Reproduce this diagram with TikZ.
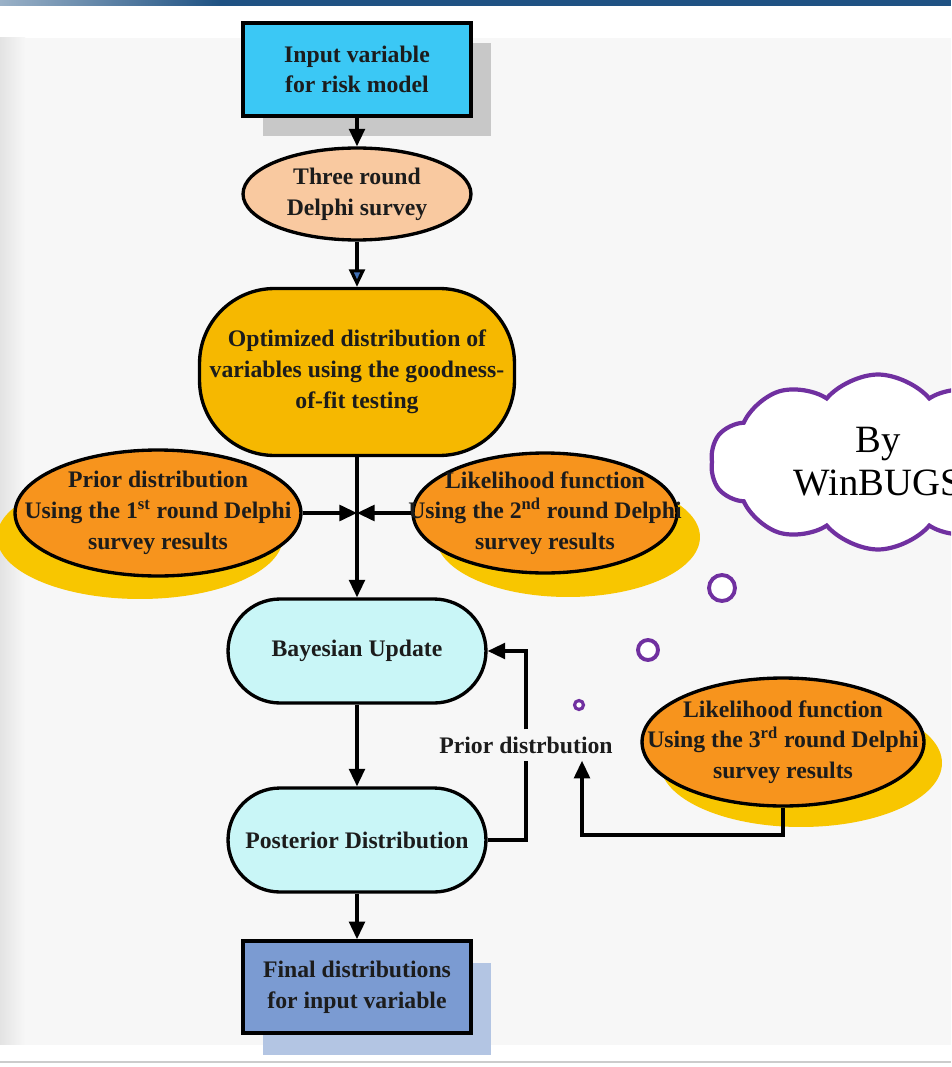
\documentclass[tikz,border=0pt]{standalone}
\usepackage{fontspec}
\setmainfont{Liberation Serif}
\usetikzlibrary{arrows.meta, shapes.geometric, shapes.symbols, calc}

\definecolor{bgcol}{HTML}{F7F7F7}
\definecolor{topbar}{HTML}{1F5283}
\definecolor{inputcol}{HTML}{3BC8F5}
\definecolor{inshadow}{HTML}{C8C8C8}
\definecolor{peachcol}{HTML}{F9C9A0}
\definecolor{goldcol}{HTML}{F6B800}
\definecolor{orangecol}{HTML}{F7941D}
\definecolor{shadowyel}{HTML}{F8C600}
\definecolor{bayescol}{HTML}{C9F6F7}
\definecolor{finalcol}{HTML}{7B9BD2}
\definecolor{finshadow}{HTML}{B3C5E3}
\definecolor{cloudcol}{HTML}{7030A0}
\definecolor{textcol}{HTML}{1C1C1C}
\definecolor{tipblue}{HTML}{3F6FB5}

\begin{document}
\begin{tikzpicture}[x=0.02cm, y=-0.02cm]
\tikzset{box/.style={rectangle, draw=black, line width=2.1pt, minimum width=4.56cm, minimum height=1.86cm, inner sep=0pt},
  oval/.style={ellipse, draw=black, line width=1.9pt, inner sep=0pt},
  pill/.style={rectangle, rounded corners=1.04cm, draw=black, line width=1.9pt, fill=bayescol, minimum width=5.16cm, minimum height=2.08cm, inner sep=0pt},
  txt/.style={font=\bfseries\fontsize{13.5}{17.5}\selectfont, text=textcol, align=center},
  arr/.style={line width=1.8pt, -{Triangle[length=10pt, width=9pt]}},
  bubble/.style={circle, draw=cloudcol, line width=2.2pt, fill=white, inner sep=0pt}}

% Normalize bounding box
\useasboundingbox (0,0) rectangle (951,1067);
\clip (0,0) rectangle (951,1067);
\fill[bgcol] (0,0) rectangle (951,1067);
\fill[white] (0,6) rectangle (951,38);
\shade[left color=gray!22, right color=bgcol] (0,38) rectangle (25,1045);
\fill[white] (0,1045) rectangle (951,1067);
\draw[gray!40, line width=1.5pt] (0,1062) -- (951,1062);
\shade[left color=topbar!45, right color=topbar] (0,0) rectangle (220,6);
\fill[topbar] (220,0) rectangle (951,6);

% shadows
\fill[inshadow] (263,43) rectangle (491,136);
\fill[finshadow] (263,963) rectangle (491,1055);
\fill[shadowyel] (140,537) ellipse [x radius=2.86cm, y radius=1.24cm];
\fill[shadowyel] (568,537) ellipse [x radius=2.64cm, y radius=1.2cm];
\fill[shadowyel] (801,763) ellipse [x radius=2.82cm, y radius=1.28cm];

% main chain
\node[box, fill=inputcol, txt] (input) at (357,69.5) {Input variable\\for risk model};
\node[oval, fill=peachcol, minimum width=4.56cm, minimum height=1.84cm, txt] (delphi) at (357,194) {Three round\\Delphi survey};
\node[rectangle, rounded corners=1.5cm, draw=black, line width=1.9pt, fill=goldcol, minimum width=6.3cm, minimum height=3.34cm, txt] (optim) at (357,372) {Optimized distribution of\\variables using the goodness-\\of-fit testing};
\node[oval, fill=orangecol, minimum width=5.72cm, minimum height=2.52cm, label={[txt]center:{Prior distribution\\Using the 1\textsuperscript{st} round Delphi\\survey results}}] (firstrd) at (158,513) {};
\node[oval, fill=orangecol, minimum width=5.28cm, minimum height=2.4cm, label={[txt]center:{Likelihood function\\Using the 2\textsuperscript{nd} round Delphi\\survey results}}] (secondrd) at (545,513) {};
\coordinate (merge) at (357,513);
\node[pill, txt] (bayes) at (357,651) {Bayesian Update};
\node[pill, txt] (post) at (357,840) {Posterior Distribution};
\node[box, fill=finalcol, minimum height=1.84cm, txt] (final) at (357,987) {Final distributions\\for input variable};

% third round and feedback
\node[oval, fill=orangecol, minimum width=5.64cm, minimum height=2.56cm, label={[txt]center:{Likelihood function\\Using the 3\textsuperscript{rd} round Delphi\\survey results}}] (thirdrd) at (783,742) {};
\node[txt, inner sep=4pt] (priorlbl) at (526,745) {Prior distrbution};
\coordinate (bend) at (582,835);

% thought cloud
\node[cloud, cloud puffs=10, cloud puff arc=100, draw=cloudcol, line width=2.4pt, fill=white, minimum width=6.7cm, minimum height=3.5cm, inner sep=0pt, label={[font=\fontsize{22}{24.5}\selectfont, align=center]center:{By\\WinBUGS}}] (bugs) at (878,462) {};
\node[bubble, minimum size=0.52cm] (puff1) at (722,588) {};
\node[bubble, minimum size=0.4cm] (puff2) at (648,650) {};
\node[bubble, minimum size=0.18cm, line width=1.8pt] (puff3) at (579,705) {};

\draw[arr] (input) -- (delphi);
\draw[arr, -{Triangle[length=10pt, width=9pt, fill=tipblue]}] (delphi) -- (optim);
\draw[line width=1.8pt] (optim) -- (merge);
\draw[arr] (merge) -- (bayes);
\draw[arr] (firstrd) -- (merge);
\draw[arr] (secondrd) -- (merge);
\draw[arr] (bayes) -- (post);
\draw[arr] (post) -- (final);
\draw[line width=1.8pt] (post.east) -| (priorlbl.south);
\draw[arr] (priorlbl.north) |- (bayes.east);
\draw[arr] (thirdrd.south) |- (bend) -- (bend |- priorlbl.south);
\end{tikzpicture}
\end{document}
